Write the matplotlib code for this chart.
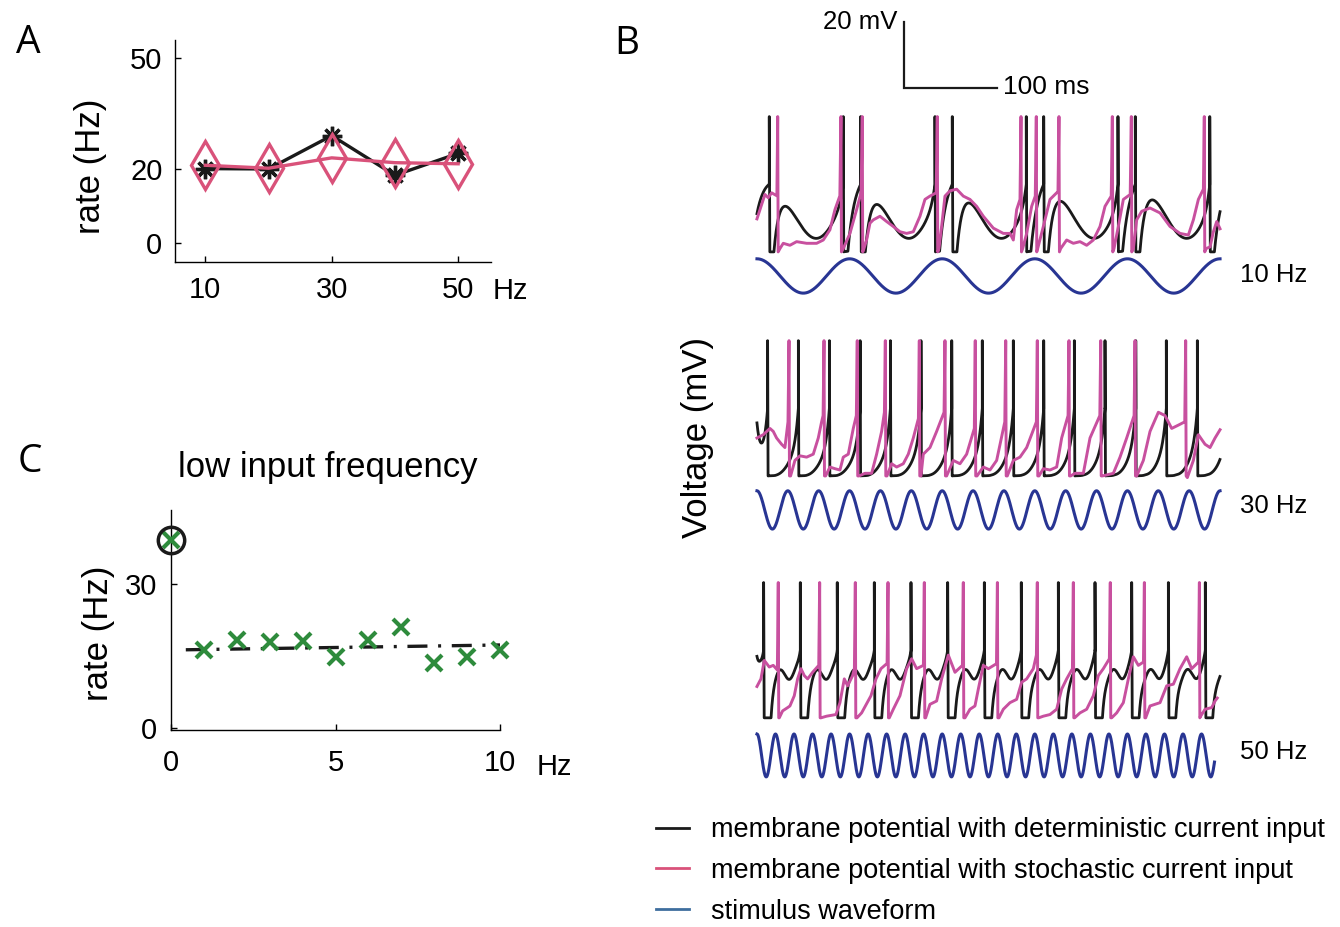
"""
Rate summary and example voltage traces for sinusoidally driven neurons.

A: mean firing rate against drive frequency, deterministic vs stochastic input.
B: example membrane potential traces at 10, 30 and 50 Hz with the stimulus.
C: rate across the low-frequency sweep, with the trend line.
"""

import matplotlib

matplotlib.use("Agg")
import matplotlib.pyplot as plt
import numpy as np
from matplotlib.lines import Line2D

plt.rcParams["font.family"] = ["Liberation Sans", "DejaVu Sans"]

FIG_W_PX, FIG_H_PX = 1340, 927

BLACK = "#1a1a1a"
ROSE = "#d9527a"
MAGENTA = "#c8509f"
NAVY = "#283593"
STEEL = "#3e6e9e"
GREEN = "#2e8b3c"

# ------------------------------------------------------------------ panel A
A_FREQ_HZ = [10, 20, 30, 40, 50]
A_RATE_DETERMINISTIC = [20.1, 20.0, 29.0, 18.3, 24.2]
A_RATE_STOCHASTIC = [21.0, 20.2, 23.0, 21.7, 21.4]

# ------------------------------------------------------------------ panel C
C_FREQ_HZ = [0, 1, 2, 3, 4, 5, 6, 7, 8, 9, 10]
C_RATE = [39.2, 16.3, 18.3, 18.0, 18.2, 14.9, 18.3, 21.1, 13.5, 14.9, 16.3]
C_TREND_FREQ = [0.45, 10.0]
C_TREND_RATE = [16.3, 17.3]
C_CIRCLED = 0

# ------------------------------------------------------------------ panel B
B_STIM_HZ = [10, 30, 50]
B_STIM_END_MS = [500, 500, 494]
B_WINDOW_MS = 500
V_RESET, V_PEAK = -70.0, -29.0

# spike times (ms) of the deterministic-input traces
DET_SPIKES_10 = [13.3, 93.2, 112.0, 192.2, 210.9, 290.8, 309.6, 389.8, 408.5, 488.9]
DET_SPIKES_30 = [11.5, 44.7, 78.2, 111.4, 144.1, 177.1, 210.3, 243.3, 276.8,
                 309.6, 342.7, 375.8, 409.0, 442.0, 475.5, 508.6]
DET_SPIKES_50 = [7.2, 46.8, 86.7, 126.7, 166.3, 205.9, 245.5, 285.4, 325.4,
                 365.0, 404.6, 444.2, 484.1]

# subthreshold shape of the deterministic traces (fraction of spike height)
DET_BASE = [0.30, 0.03, 0.32]
DET_SWING = [0.20, 0.02, 0.04]
DET_LAG_MS = [14, 5, 5]
DET_TAU_MS = [6, 4, 2.5]
DET_REFRACTORY_MS = [5, 8, 8]
DET_UPSWING_MS = [3, 5, 3]
DET_START = [0.28, 0.38, 0.45]

# spike times (ms) of the stochastic-input traces
STOCH_SPIKES_10 = [22.4, 90.7, 113.7, 194.7, 285.1, 301.6, 326.1, 383.7, 404.2, 483.0]
STOCH_SPIKES_30 = [34.6, 72.4, 108.3, 138.6, 175.3, 203.0, 235.7, 268.6, 302.7,
                   336.9, 371.2, 408.2, 462.9]
STOCH_SPIKES_50 = [23.0, 67.7, 106.2, 141.5, 180.7, 222.8, 259.6, 302.7, 341.6,
                   381.5, 418.3, 477.7]

# subthreshold path of the stochastic traces, (ms, mV)
STOCH_PATH_10 = [
    (0, -60.0), (8.6, -52.6), (12.2, -53.6), (15.8, -52.1), (21.5, -53.0),
    (24.8, -69.0), (28.4, -67.4), (35.6, -68.0), (42.8, -66.9), (53.6, -67.4),
    (64.4, -67.4), (71.6, -66.4), (78.8, -63.3), (84.2, -57.2), (89.5, -53.0),
    (93.2, -69.0), (100.4, -64.4), (107.6, -57.2), (112.5, -52.0),
    (115.5, -69.0), (118.4, -66.4), (122.0, -61.3), (125.6, -60.3), (132.8, -59.2),
    (140.0, -60.8), (147.2, -62.3), (154.4, -63.9), (161.6, -64.4), (168.8, -63.9),
    (176.0, -59.2), (181.4, -54.1), (186.8, -53.1), (193.5, -52.1),
    (196.5, -69.0), (199.4, -62.3), (203.0, -53.1), (208.4, -51.5), (215.6, -51.0),
    (222.8, -53.1), (230.0, -54.1), (237.2, -56.2), (244.4, -59.2), (255.2, -62.8),
    (266.0, -64.4), (273.2, -64.4), (276.8, -66.4), (280.4, -57.2), (284.0, -54.1),
    (286.9, -69.0), (291.2, -64.4), (296.6, -56.2), (300.5, -53.1),
    (303.1, -69.0), (309.2, -62.3), (316.4, -54.1), (323.6, -52.1), (325.0, -52.0),
    (327.9, -69.0), (334.4, -66.4), (341.6, -67.4), (348.8, -66.9), (356.0, -68.0),
    (363.2, -66.4), (370.4, -62.3), (375.8, -56.2), (382.5, -53.1),
    (385.5, -69.0), (390.2, -62.3), (395.6, -54.1), (403.0, -52.6),
    (406.4, -69.0), (410.0, -60.3), (415.4, -57.7), (424.4, -56.7), (435.2, -58.2),
    (446.0, -62.3), (456.8, -64.4), (465.8, -64.9), (471.2, -60.3), (476.6, -54.1),
    (482.0, -51.0),
    (484.9, -69.0), (489.2, -68.5), (492.8, -63.9), (496.4, -60.8), (500.0, -63.0),
]
STOCH_PATH_30 = [
    (0, -58.5), (6.8, -57.5), (14.0, -55.6), (17.6, -56.5), (21.2, -58.5),
    (26.6, -60.4), (30.2, -61.4), (33.5, -53.6),
    (36.3, -70.0), (41.0, -65.3), (46.4, -63.9), (53.6, -64.3), (60.8, -63.4),
    (66.2, -58.5), (69.8, -53.6), (71.4, -51.7),
    (74.1, -70.0), (78.8, -67.3), (84.2, -67.8), (89.6, -68.2), (93.2, -64.3),
    (98.6, -63.4), (104.0, -55.6), (107.3, -51.7),
    (110.1, -70.0), (116.6, -69.2), (123.8, -69.2), (129.2, -63.4), (134.6, -56.5),
    (137.6, -50.7),
    (140.4, -70.0), (145.4, -66.3), (150.8, -67.3), (158.0, -66.3), (163.4, -63.4),
    (168.8, -58.5), (174.3, -52.6),
    (177.1, -70.0), (179.6, -63.4), (186.8, -61.4), (194.0, -56.5), (202.0, -50.7),
    (204.8, -70.0), (212.0, -65.3), (219.2, -66.3), (226.4, -63.4), (234.7, -55.6),
    (237.6, -70.0), (244.4, -67.3), (251.6, -68.2), (258.8, -65.3), (267.6, -53.6),
    (270.3, -70.0), (276.8, -65.3), (284.0, -64.3), (291.2, -61.4), (301.7, -53.6),
    (304.5, -70.0), (309.2, -67.8), (316.4, -68.2), (323.6, -67.3), (329.0, -58.5),
    (335.9, -51.7),
    (338.7, -70.0), (343.4, -69.2), (352.4, -69.2), (359.6, -58.5), (370.2, -51.7),
    (372.9, -70.0), (377.6, -69.7), (384.8, -69.2), (392.0, -64.3), (399.2, -58.5),
    (407.2, -51.7),
    (410.0, -70.0), (417.2, -65.3), (424.4, -56.5), (433.4, -50.7), (440.6, -51.7),
    (447.8, -55.6), (455.0, -54.6), (461.9, -53.6),
    (464.7, -70.5), (471.2, -65.3), (476.6, -57.5), (483.8, -60.4), (489.2, -61.4),
    (494.6, -58.5), (500.0, -56.0),
]
STOCH_PATH_50 = [
    (0, -60.5), (4.3, -58.2), (7.9, -52.6), (13.3, -54.6), (17.6, -54.1), (22.0, -55.5),
    (24.1, -70.0), (27.7, -67.9), (33.1, -66.9), (35.6, -66.4), (40.3, -63.3),
    (43.9, -58.2), (47.5, -55.1), (51.1, -57.2), (54.7, -58.2), (60.1, -56.2),
    (66.7, -54.1),
    (69.1, -70.0), (75.2, -69.5), (85.3, -69.0), (89.6, -65.4), (94.3, -58.2),
    (97.9, -60.3), (103.3, -57.2), (105.2, -55.0),
    (108.0, -70.0), (113.0, -68.5), (123.1, -63.3), (128.5, -58.2), (133.9, -55.1),
    (140.5, -53.5),
    (142.9, -70.0), (147.2, -67.4), (154.4, -63.3), (161.6, -55.1), (167.0, -52.1),
    (172.4, -55.1), (179.7, -54.1),
    (182.1, -70.0), (186.8, -65.9), (194.0, -64.9), (199.4, -58.2), (206.6, -51.0),
    (213.8, -56.2), (221.8, -54.1),
    (224.6, -70.0), (230.0, -67.4), (235.4, -66.4), (239.0, -61.3), (244.4, -54.1),
    (249.8, -55.1), (258.6, -53.6),
    (261.3, -70.0), (266.0, -67.4), (273.2, -65.4), (280.4, -64.4), (285.8, -59.2),
    (291.2, -58.2), (298.4, -55.1), (301.7, -51.0),
    (304.2, -70.0), (309.2, -69.5), (316.4, -69.0), (323.6, -67.4), (329.0, -61.3),
    (334.4, -58.2), (340.6, -55.1),
    (343.0, -70.0), (348.8, -68.5), (356.0, -67.4), (363.2, -63.3), (368.6, -57.2),
    (374.0, -55.1), (380.5, -52.1),
    (383.0, -70.0), (388.4, -68.5), (395.6, -65.4), (401.0, -58.2), (406.4, -51.5),
    (411.8, -54.1), (417.3, -53.1),
    (419.7, -70.0), (424.4, -66.4), (435.2, -65.4), (442.4, -60.3), (449.6, -59.8),
    (456.8, -55.1), (464.0, -51.5), (469.4, -55.1), (476.7, -53.1),
    (479.1, -69.5), (483.8, -67.4), (491.0, -66.9), (494.6, -64.9), (497.0, -64.0),
]

DET_SPIKES = [DET_SPIKES_10, DET_SPIKES_30, DET_SPIKES_50]
STOCH_SPIKES = [STOCH_SPIKES_10, STOCH_SPIKES_30, STOCH_SPIKES_50]
STOCH_PATHS = [STOCH_PATH_10, STOCH_PATH_30, STOCH_PATH_50]

# layout of the B stack, in the B axes' own units (ms across, mV-equivalent down)
BLOCK_OFFSET = [-3.3, -71.2, -144.5]
STIM_CENTER = [-80.6, -151.5, -225.9]
STIM_HALF_HEIGHT = [5.2, 5.8, 6.5]
STIM_LABEL_PX_Y = [275, 506, 752]


def px_x(px):
    return px / FIG_W_PX


def px_y(py):
    return 1 - py / FIG_H_PX


def axes_rect(left, top, right, bottom):
    return [px_x(left), px_y(bottom), (right - left) / FIG_W_PX, (bottom - top) / FIG_H_PX]


def deterministic_trace(spikes, freq, base, swing, lag, tau, refractory,
                        upswing, start, t_end=B_WINDOW_MS, dt=0.1):
    """Reset-and-relax membrane path through the given spike times."""
    threshold = 0.5

    def steady(t):
        return base + swing * np.cos(2 * np.pi * freq * (t - lag) / 1000.0)

    times, level = [], []
    for k in range(len(spikes) + 1):
        seg_start = 0.0 if k == 0 else spikes[k - 1] + 0.5
        if seg_start >= t_end:
            break
        nxt = spikes[k] if k < len(spikes) else None
        seg_stop = t_end if nxt is None else min(nxt, t_end)
        t = np.arange(seg_start, seg_stop, dt)
        v_ss = steady(t)
        if k == 0:
            v = v_ss + (start - v_ss[0]) * np.exp(-t / tau)
        else:
            t_rec = spikes[k - 1] + refractory
            v = v_ss - steady(t_rec) * np.exp(-(t - t_rec) / tau)
            v = np.clip(np.where(t < t_rec, 0.0, v), 0.0, None)
        if nxt is not None:
            v = v + (threshold - v) * np.exp((t - nxt) / upswing)
        times.extend(t)
        level.extend(v)
        if nxt is not None and nxt <= t_end:
            times += [nxt, nxt, nxt + 0.5]
            level += [threshold, 1.0, 0.0]
    level = np.asarray(level)
    return np.asarray(times), V_RESET + (V_PEAK - V_RESET) * level


def stochastic_trace(path, spikes):
    events = sorted([(t, v, 0) for t, v in path] + [(t, 0.0, 1) for t in spikes])
    times, volts = [], []
    for t, v, is_spike in events:
        if is_spike:
            times += [t, t + 0.5]
            volts += [V_PEAK, V_RESET]
        else:
            times.append(t)
            volts.append(v)
    return np.asarray(times), np.asarray(volts)


def style_rate_axes(ax, ypad, xpad):
    for side in ("top", "right"):
        ax.spines[side].set_visible(False)
    for side in ("left", "bottom"):
        ax.spines[side].set_linewidth(1.0)
    ax.tick_params(direction="in", length=4, width=1.0, labelsize=21)
    ax.tick_params(axis="y", pad=ypad)
    ax.tick_params(axis="x", pad=xpad)


fig = plt.figure(figsize=(FIG_W_PX / 100, FIG_H_PX / 100), dpi=100)

# ---------------------------------------------------------------- A
ax_a = fig.add_axes(axes_rect(175, 40, 491, 262))
ax_a.plot(A_FREQ_HZ, A_RATE_DETERMINISTIC, color=BLACK, linewidth=2.4,
          marker=(8, 2, 0), markersize=14, markeredgewidth=2.4, zorder=3)
ax_a.plot(A_FREQ_HZ, A_RATE_STOCHASTIC, color=ROSE, linewidth=2.4,
          marker="d", markersize=24, markerfacecolor="none",
          markeredgewidth=2.4, zorder=4)
ax_a.set_xlim(5.2, 55.2)
ax_a.set_ylim(-5.1, 54.8)
ax_a.set_xticks([10, 30, 50])
ax_a.set_yticks([0, 20, 50])
style_rate_axes(ax_a, ypad=9, xpad=10)
ax_a.set_ylabel("rate (Hz)", fontsize=25)
ax_a.yaxis.set_label_coords(-0.215, 0.43)
fig.text(px_x(493), px_y(291), "Hz", fontsize=21, ha="left", va="center")

# ---------------------------------------------------------------- C
ax_c = fig.add_axes(axes_rect(171, 510, 500, 730))
ax_c.plot(C_TREND_FREQ, C_TREND_RATE, color=BLACK, linewidth=2.4,
          dashes=(6, 3.2, 0.9, 3.2), zorder=2)
ax_c.plot(C_FREQ_HZ, C_RATE, linestyle="none", marker="x", markersize=11,
          markeredgewidth=3, color=GREEN, clip_on=False, zorder=3)
ax_c.plot([C_FREQ_HZ[C_CIRCLED]], [C_RATE[C_CIRCLED]], linestyle="none",
          marker="o", markersize=19, markerfacecolor="none",
          markeredgecolor=BLACK, markeredgewidth=2.5, clip_on=False, zorder=4)
ax_c.set_xlim(0, 10)
ax_c.set_ylim(-0.4, 45.4)
ax_c.set_xticks([0, 5, 10])
ax_c.set_yticks([0, 30])
style_rate_axes(ax_c, ypad=10, xpad=14)
ax_c.set_ylabel("rate (Hz)", fontsize=25)
ax_c.yaxis.set_label_coords(-0.17, 0.44)
fig.text(px_x(537), px_y(767), "Hz", fontsize=21, ha="left", va="center")
fig.text(px_x(328), px_y(467), "low input frequency", fontsize=25,
         ha="center", va="center")

# ---------------------------------------------------------------- B
ax_b = fig.add_axes(axes_rect(747.7, 10, 1229.3, 800))
ax_b.set_xlim(-10, 510)
ax_b.set_ylim(-239.4, 0)
ax_b.axis("off")

for i, freq in enumerate(B_STIM_HZ):
    t, v = deterministic_trace(
        DET_SPIKES[i], freq, DET_BASE[i], DET_SWING[i], DET_LAG_MS[i],
        DET_TAU_MS[i], DET_REFRACTORY_MS[i], DET_UPSWING_MS[i], DET_START[i],
    )
    ax_b.plot(t, v + BLOCK_OFFSET[i], color=BLACK, linewidth=2.0, zorder=2)

    t, v = stochastic_trace(STOCH_PATHS[i], STOCH_SPIKES[i])
    ax_b.plot(t, v + BLOCK_OFFSET[i], color=MAGENTA, linewidth=2.1, zorder=3)

    t_stim = np.linspace(0, B_STIM_END_MS[i], 3000)
    stim = np.cos(2 * np.pi * freq * t_stim / 1000.0)
    ax_b.plot(t_stim, STIM_CENTER[i] + STIM_HALF_HEIGHT[i] * stim,
              color=NAVY, linewidth=2.2, zorder=2)
    fig.text(px_x(1240), px_y(STIM_LABEL_PX_Y[i]), f"{freq} Hz", fontsize=18.5,
             ha="left", va="center")

# scale bar: 20 mV by 100 ms
bar_t, bar_v = 158.7, -23.6
ax_b.plot([bar_t, bar_t, bar_t + 100], [bar_v + 20, bar_v, bar_v],
          color=BLACK, linewidth=1.6, solid_joinstyle="miter")
ax_b.text(bar_t - 7.5, bar_v + 20, "20 mV", fontsize=18.5, ha="right", va="center")
ax_b.text(bar_t + 107, bar_v + 0.3, "100 ms", fontsize=19, ha="left", va="center")

fig.text(px_x(697), px_y(438), "Voltage (mV)", fontsize=25, rotation=90,
         ha="center", va="center")

handles = [
    Line2D([], [], color=BLACK, linewidth=2.0),
    Line2D([], [], color=ROSE, linewidth=2.0),
    Line2D([], [], color=STEEL, linewidth=2.0),
]
labels = [
    "membrane potential with deterministic current input",
    "membrane potential with stochastic current input",
    "stimulus waveform",
]
fig.legend(handles, labels, loc="upper left",
           bbox_to_anchor=(px_x(656), px_y(817)), frameon=False, fontsize=19.5,
           handlelength=1.2, handletextpad=0.82, labelspacing=0.55,
           borderpad=0, borderaxespad=0)

# panel letters
for letter, (x, y) in {"A": (28, 43), "B": (627, 44), "C": (30, 462)}.items():
    fig.text(px_x(x), px_y(y), letter, fontsize=28, family="Open Sans",
             ha="center", va="center")

fig.savefig("out.png", dpi=100)
